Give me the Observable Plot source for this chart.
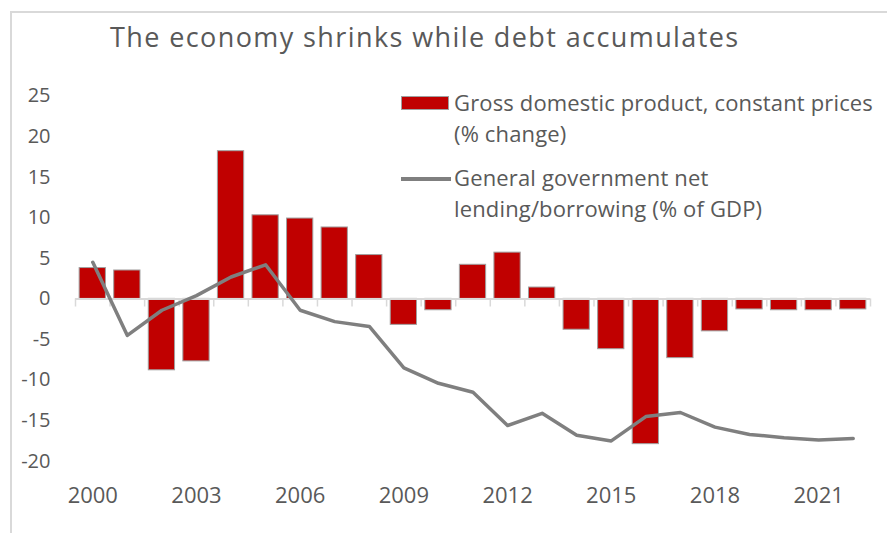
<!DOCTYPE html>
<html>
<head>
<meta charset="utf-8">
<script src="https://cdn.jsdelivr.net/npm/d3@7"></script>
<script src="https://cdn.jsdelivr.net/npm/@observablehq/plot@0.6"></script>
<style>
  body { margin: 0; background: #fff; }
  #wrap { position: relative; width: 887px; height: 533px; overflow: hidden;
          font-family: "Open Sans", sans-serif; color: #595959; background: #fff; }
  #frame { position: absolute; left: 10px; top: 11px; right: -5px; bottom: -5px;
           border-left: 2px solid #d9d9d9; border-top: 2px solid #d9d9d9; }
  #chart { position: absolute; left: 0; top: 0; }
  #title { position: absolute; left: 110px; top: 19px; font-size: 27px; line-height: 36px;
           letter-spacing: 1.4px; white-space: nowrap; }
  .legtext { position: absolute; left: 454px; font-size: 22px; line-height: 31px; white-space: nowrap;
             letter-spacing: 0.15px; }
  .swbar { position: absolute; left: 401px; top: 96px; width: 48px; height: 14px;
           background: #c00000; border: 1px solid #a0a0a0; box-sizing: border-box; }
  .swline { position: absolute; left: 401px; top: 177px; width: 50px; height: 4px; background: #7f7f7f; }
</style>
</head>
<body>
<div id="wrap">
  <div id="frame"></div>
  <div id="chart"></div>
  <div id="title"></div>
  <div class="swbar"></div>
  <div class="legtext" id="leg1" style="top:87px"></div>
  <div class="swline"></div>
  <div class="legtext" id="leg2" style="top:162px"></div>
</div>
<script>
// ---- data ----
const years = [2000, 2001, 2002, 2003, 2004, 2005, 2006, 2007, 2008, 2009, 2010, 2011,
               2012, 2013, 2014, 2015, 2016, 2017, 2018, 2019, 2020, 2021, 2022];
const gdpGrowth = [3.8, 3.5, -8.8, -7.7, 18.2, 10.3, 9.9, 8.8, 5.4, -3.2, -1.4, 4.2,
                   5.7, 1.4, -3.8, -6.2, -17.9, -7.3, -4.0, -1.3, -1.4, -1.4, -1.3];
const netLending = [4.5, -4.5, -1.4, 0.4, 2.7, 4.2, -1.4, -2.8, -3.4, -8.5, -10.4, -11.5,
                    -15.6, -14.1, -16.8, -17.5, -14.5, -14.0, -15.8, -16.7, -17.1, -17.4, -17.2];
const xTickYears = [2000, 2003, 2006, 2009, 2012, 2015, 2018, 2021];
const yTicks = [-20, -15, -10, -5, 0, 5, 10, 15, 20, 25];
const titleText = "The economy shrinks while debt accumulates";
const seriesLabels = [
  ["Gross domestic product, constant prices", "(% change)"],
  ["General government net", "lending/borrowing (% of GDP)"]
];

// ---- build ----
document.getElementById("title").textContent = titleText;
document.getElementById("leg1").innerHTML = seriesLabels[0].join("<br>");
document.getElementById("leg2").innerHTML = seriesLabels[1].join("<br>");

const rows = years.map((year, i) => ({year, gdp: gdpGrowth[i], lending: netLending[i]}));

const W = 887, H = 533, ML = 75, MR = 17, MT = 95.5, MB = 72.3;
const step = (W - ML - MR) / years.length;

const chart = Plot.plot({
  width: W,
  height: H,
  marginLeft: ML,
  marginRight: MR,
  marginTop: MT,
  marginBottom: MB,
  style: {fontFamily: "'Open Sans', sans-serif", color: "#595959", background: "transparent", overflow: "visible"},
  x: {type: "band", domain: years, paddingInner: 0.24, paddingOuter: 0.12, round: false, label: null},
  y: {domain: [-20, 25], label: null},
  marks: [
    Plot.barY(rows, {x: "year", y: "gdp", fill: "#c00000", stroke: "#a0a0a0", strokeWidth: 1}),
    Plot.ruleY([0], {stroke: "#d9d9d9", strokeWidth: 2}),
    Plot.ruleX(years, {x: d => d, y1: 0, y2: -1, dx: -step / 2, stroke: "#d9d9d9", strokeWidth: 1.5}),
    Plot.ruleX(years.slice(-1), {x: d => d, y1: 0, y2: -1, dx: step / 2, stroke: "#d9d9d9", strokeWidth: 1.5}),
    Plot.lineY(rows, {x: "year", y: "lending", stroke: "#7f7f7f", strokeWidth: 3.5, strokeLinejoin: "round", strokeLinecap: "round"}),
    Plot.axisY({ticks: yTicks, tickSize: 0, tickPadding: 25, tickFormat: d => String(d), fontSize: 20, label: null}),
    Plot.axisX({ticks: xTickYears, tickSize: 0, tickPadding: 26, tickFormat: d => String(d), fontSize: 22, label: null})
  ]
});
document.getElementById("chart").appendChild(chart);
</script>
</body>
</html>
